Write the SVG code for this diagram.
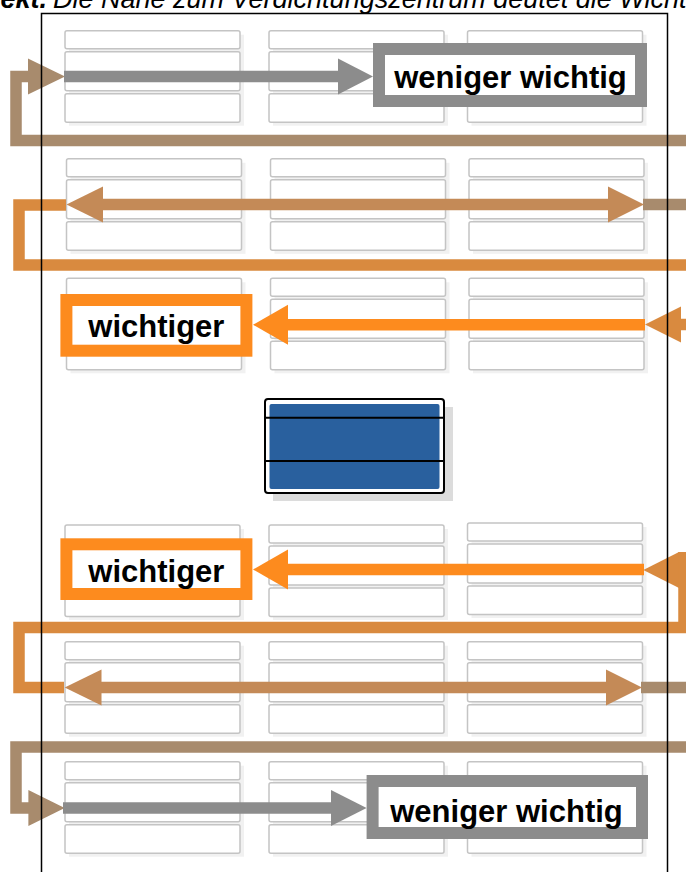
<svg xmlns="http://www.w3.org/2000/svg" xmlns:xlink="http://www.w3.org/1999/xlink" width="686" height="872" viewBox="0 0 686 872">
<style>
.cap{font-family:"Liberation Sans",Arial,sans-serif;font-size:27px;font-style:italic;fill:#000}
.lbl{font-family:"Liberation Sans",Arial,sans-serif;font-size:31px;font-weight:bold;fill:#000;text-anchor:middle}
.cb{fill:#fff;stroke:#c4c4c4;stroke-width:1.5}
.ln{fill:none;stroke-width:11.5;stroke-linejoin:miter;stroke-linecap:butt}
</style>
<defs>
<g id="cell">
<rect x="4" y="4" width="175" height="91" fill="#f1f1f1"/>
<rect class="cb" x="0" y="0" width="175" height="18" rx="2"/>
<rect class="cb" x="0" y="21" width="175" height="39" rx="2"/>
<rect class="cb" x="0" y="63" width="175" height="28.5" rx="2"/>
</g>
</defs>
<rect width="686" height="872" fill="#fff"/>
<text class="cap" x="47" y="8" font-weight="bold" text-anchor="end">ekt.</text>
<text class="cap" x="53" y="8">Die Nähe zum Verdichtungszentrum deutet die Wichtigkeit</text>
<g id="row1"><use xlink:href="#cell" x="65" y="30.7"/><use xlink:href="#cell" x="269" y="30.7"/><use xlink:href="#cell" x="467.5" y="30.7"/></g>
<g id="row2"><use xlink:href="#cell" x="66.5" y="158.8"/><use xlink:href="#cell" x="270.5" y="158.8"/><use xlink:href="#cell" x="469" y="158.8"/></g>
<g id="row3"><use xlink:href="#cell" x="66.5" y="278.3"/><use xlink:href="#cell" x="270.5" y="278.3"/><use xlink:href="#cell" x="469" y="278.3"/></g>
<g id="row4"><use xlink:href="#cell" x="65" y="525"/><use xlink:href="#cell" x="269" y="525"/><use xlink:href="#cell" x="467.5" y="523"/></g>
<g id="row5"><use xlink:href="#cell" x="65" y="641.7"/><use xlink:href="#cell" x="269" y="641.7"/><use xlink:href="#cell" x="467.5" y="641.7"/></g>
<g id="row6"><use xlink:href="#cell" x="65" y="761.7"/><use xlink:href="#cell" x="269" y="761.7"/><use xlink:href="#cell" x="467.5" y="761.7"/></g>
<g id="center">
<rect x="273" y="407" width="180" height="94" fill="#dcdcdc"/>
<rect x="265" y="399" width="179" height="94" rx="3" fill="#fff" stroke="#000" stroke-width="2"/>
<rect x="269.5" y="404" width="170" height="85" rx="2" fill="#29609e"/>
<line x1="265" y1="417.7" x2="444" y2="417.7" stroke="#000" stroke-width="2"/>
<line x1="265" y1="461" x2="444" y2="461" stroke="#000" stroke-width="2"/>
</g>
<g id="connectors">
<path class="ln" stroke="#a88b6d" d="M690,140.5 H16 V76.5 H30"/>
<polygon fill="#a88b6d" points="28,58.5 65,76.5 28,94.5"/>
<path class="ln" stroke="#8c8c8c" d="M64,76.5 H340"/>
<polygon fill="#8c8c8c" points="338,58.5 373,76.5 338,94.5"/>
<path class="ln" stroke="#d98a3f" d="M66,205 H19 V265 H690"/>
<path class="ln" stroke="#a88b6d" d="M643,204.5 H690"/>
<path class="ln" stroke="#c48a57" d="M100,204.5 H610"/>
<polygon fill="#c48a57" points="66.5,204.5 103,186.5 103,222.5"/>
<polygon fill="#c48a57" points="644,204.5 608,186.5 608,222.5"/>
<path class="ln" stroke="#fd8b1e" d="M645,324.7 H285"/>
<polygon fill="#fd8b1e" points="253,324.7 288,304.7 288,344.7"/>
<polygon fill="#d98a3f" points="645,324.5 681,306.5 681,342.5"/>
<path class="ln" stroke="#d98a3f" d="M680,324.5 H690"/>
<path class="ln" stroke="#fd8b1e" d="M644,569.5 H285"/>
<polygon fill="#fd8b1e" points="253,569.5 288,549.5 288,589.5"/>
<polygon fill="#d98a3f" points="643.3,570 679,552 679,588"/>
<path class="ln" stroke="#d98a3f" d="M684,552 V627.5 H19 V687.5 H64"/>
<path class="ln" stroke="#a88b6d" d="M641,687.5 H690"/>
<path class="ln" stroke="#c48a57" d="M99,687.5 H608"/>
<polygon fill="#c48a57" points="64.7,687.5 101.5,669.5 101.5,705.5"/>
<polygon fill="#c48a57" points="642,687.5 606,669.5 606,705.5"/>
<path class="ln" stroke="#a88b6d" d="M690,747 H16 V808 H30"/>
<polygon fill="#a88b6d" points="28.4,790 64.7,808 28.4,826"/>
<path class="ln" stroke="#8c8c8c" d="M63,808 H333"/>
<polygon fill="#8c8c8c" points="331,790 366.6,808 331,826"/>
</g>
<g id="label-top">
<rect x="379" y="49" width="262" height="52" fill="#fff" stroke="#8c8c8c" stroke-width="12"/>
<text class="lbl" x="510.5" y="88">weniger wichtig</text>
</g>
<g id="label-mid1">
<rect x="66.4" y="300" width="180" height="50.7" fill="#fff" stroke="#fd8b1e" stroke-width="12"/>
<text class="lbl" x="156.4" y="337">wichtiger</text>
</g>
<g id="label-mid2">
<rect x="66.4" y="544.3" width="180" height="49.7" fill="#fff" stroke="#fd8b1e" stroke-width="12"/>
<text class="lbl" x="156.4" y="582">wichtiger</text>
</g>
<g id="label-bottom">
<rect x="372.6" y="781" width="269.4" height="52" fill="#fff" stroke="#8c8c8c" stroke-width="12"/>
<text class="lbl" x="506.5" y="821.5">weniger wichtig</text>
</g>
<rect id="frame" x="41.5" y="13.5" width="626" height="900" fill="none" stroke="#000" stroke-width="1.5"/>
</svg>
